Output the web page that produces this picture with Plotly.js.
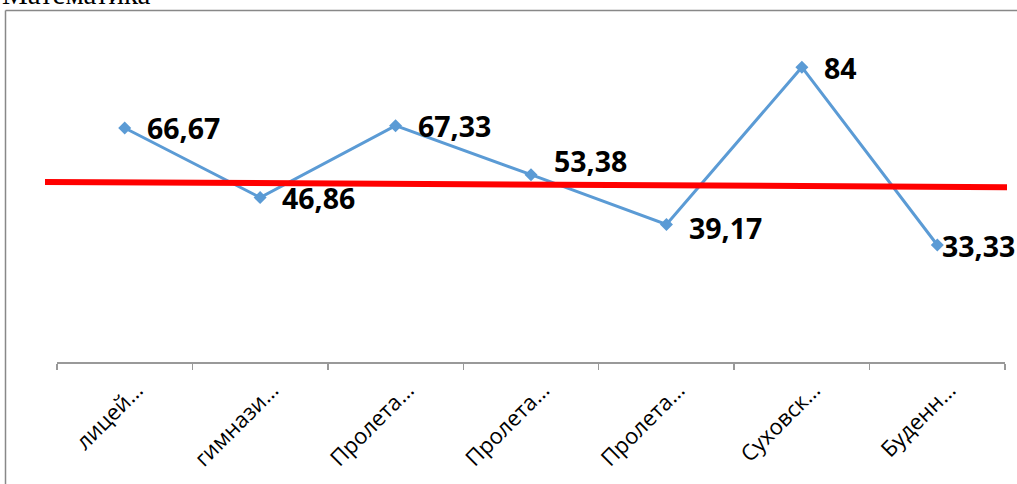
<!DOCTYPE html>
<html>
<head>
<meta charset="utf-8">
<script src="https://cdn.plot.ly/plotly-3.0.1.min.js"></script>
<style>
html,body{margin:0;padding:0;background:#fff;}
#chart{width:1017px;height:484px;}
</style>
</head>
<body>
<div id="chart"></div>
<script>
// ---- data ----
const chartTitle = "Математика";
const tickLabels = ["лицей…", "гимнази…", "Пролета…", "Пролета…", "Пролета…", "Суховск…", "Буденн…"];
const scores = [66.67, 46.86, 67.33, 53.38, 39.17, 84, 33.33];
const averageLine = [51.3, 49.8];   // start / end level of the red line

// ---- label offsets (style only) ----
const labelDx = [20, 20, 20, 21, 21, 20, 3];
const labelDy = [0, 0, 0, 14, -3, -1, -1];

const idx = tickLabels.map((_, i) => i);
const bounds = [];
for (let i = 0; i <= tickLabels.length; i++) bounds.push(i - 0.5);

const L = 57, R = 12, T = 11, B = 122;
const W = 1017 - L - R, H = 484 - T - B;
const px = v => (v - L) / W;          // page px -> paper x
const py = v => (484 - B - v) / H;    // page px -> paper y

const traces = [{
  x: idx,
  y: scores,
  type: 'scatter',
  mode: 'lines+markers',
  line: {color: '#5B9BD5', width: 3},
  marker: {symbol: 'diamond', size: 10, color: '#5B9BD5'},
  hoverinfo: 'skip'
}];

const annotations = scores.map((v, i) => ({
  x: i, y: v, xref: 'x', yref: 'y',
  text: String(v).replace('.', ','),
  showarrow: false, xanchor: 'left', yanchor: 'middle',
  xshift: labelDx[i], yshift: labelDy[i],
  font: {family: 'Open Sans', size: 28.5, color: '#000', weight: 'bold'}
}));
annotations.push({
  xref: 'paper', yref: 'paper', x: px(0), y: py(12),
  xanchor: 'left', yanchor: 'bottom', showarrow: false,
  text: chartTitle,
  font: {family: 'Liberation Serif', size: 29, color: '#000'}
});

const layout = {
  width: 1017, height: 484,
  margin: {l: L, r: R, t: T, b: B},
  paper_bgcolor: '#fff', plot_bgcolor: '#fff',
  showlegend: false,
  xaxis: {
    range: [-0.5, tickLabels.length - 0.5],
    tickmode: 'array', tickvals: idx, ticktext: tickLabels,
    ticks: '', tickangle: -45, ticklabelshift: 12, ticklabelstandoff: 5,
    showgrid: false, zeroline: false,
    showline: true, linecolor: '#999', linewidth: 1.5,
    tickfont: {family: 'Open Sans', size: 22, color: '#000'},
    minor: {tickmode: 'array', tickvals: bounds, ticks: 'outside', ticklen: 6,
            tickcolor: '#999', tickwidth: 1.5, showgrid: false}
  },
  yaxis: {
    range: [0, 100], visible: false, showgrid: false, zeroline: false
  },
  shapes: [
    {type: 'line', xref: 'paper', yref: 'y', x0: px(45), x1: px(1007),
     y0: averageLine[0], y1: averageLine[1], layer: 'above',
     line: {color: '#FF0000', width: 6}},
    {type: 'line', xref: 'paper', yref: 'paper', x0: px(5.5), x1: px(5.5),
     y0: py(484), y1: py(10.5), line: {color: '#888', width: 1.5}},
    {type: 'line', xref: 'paper', yref: 'paper', x0: px(5.5), x1: px(1017),
     y0: py(10.5), y1: py(10.5), line: {color: '#888', width: 1.5}}
  ],
  annotations: annotations
};

Plotly.newPlot('chart', traces, layout, {staticPlot: true, displayModeBar: false});
</script>
</body>
</html>
